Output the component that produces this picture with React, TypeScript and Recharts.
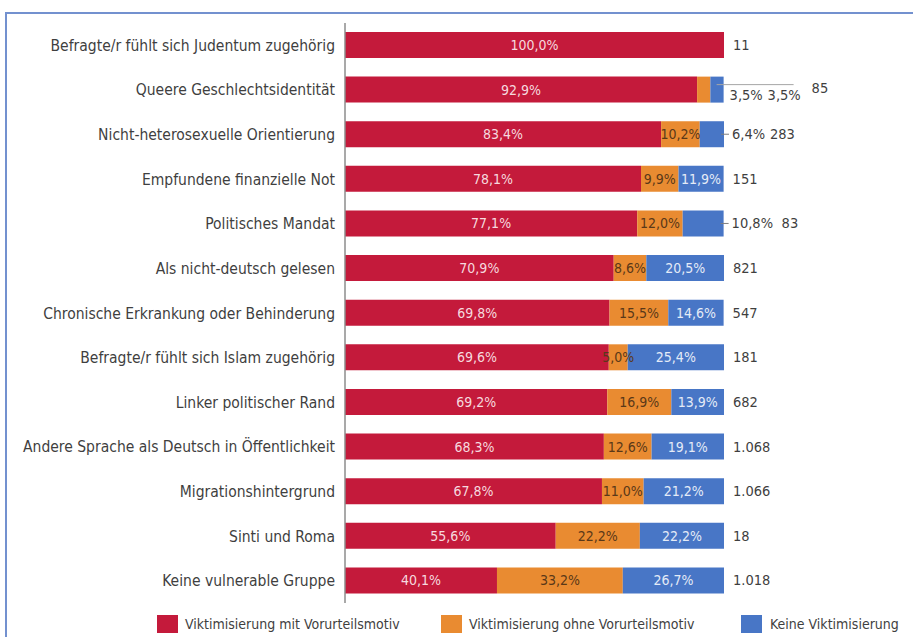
import React from "react";
import { BarChart, Bar, XAxis, YAxis, LabelList } from "recharts";

const categories = [
  "Befragte/r fühlt sich Judentum zugehörig",
  "Queere Geschlechtsidentität",
  "Nicht-heterosexuelle Orientierung",
  "Empfundene finanzielle Not",
  "Politisches Mandat",
  "Als nicht-deutsch gelesen",
  "Chronische Erkrankung oder Behinderung",
  "Befragte/r fühlt sich Islam zugehörig",
  "Linker politischer Rand",
  "Andere Sprache als Deutsch in Öffentlichkeit",
  "Migrationshintergrund",
  "Sinti und Roma",
  "Keine vulnerable Gruppe",
];
const mitMotiv = [100.0, 92.9, 83.4, 78.1, 77.1, 70.9, 69.8, 69.6, 69.2, 68.3, 67.8, 55.6, 40.1];
const ohneMotiv = [0, 3.5, 10.2, 9.9, 12.0, 8.6, 15.5, 5.0, 16.9, 12.6, 11.0, 22.2, 33.2];
const keine = [0, 3.5, 6.4, 11.9, 10.8, 20.5, 14.6, 25.4, 13.9, 19.1, 21.2, 22.2, 26.7];
const fallzahl = ["11", "85", "283", "151", "83", "821", "547", "181", "682", "1.068", "1.066", "18", "1.018"];

const seriesNames = [
  "Viktimisierung mit Vorurteilsmotiv",
  "Viktimisierung ohne Vorurteilsmotiv",
  "Keine Viktimisierung",
];

const RED = "#C41A3B";
const ORANGE = "#E98B31";
const BLUE = "#4876C6";
const TEXT = "#3f3f3f";
const FONT = "'DejaVu Sans Condensed', 'DejaVu Sans', sans-serif";

const rows = categories.map((name, i) => ({
  name,
  mit: mitMotiv[i],
  ohne: ohneMotiv[i],
  keine: keine[i],
  n: fallzahl[i],
}));

const fmt = (v: number) => v.toFixed(1).replace(".", ",") + "%";

// which small segments get their label outside the bar
const orangeOutside = (v: number) => v > 0 && v < 4;
const blueOutside = (v: number) => v > 0 && v < 11;

const insideLabel = (color: string, skip?: (v: number) => boolean) => (props: any) => {
  const { x, y, width, height, value } = props;
  if (!value || (skip && skip(value))) return null;
  return (
    <text
      x={x + width / 2}
      y={y + height / 2}
      textAnchor="middle"
      dominantBaseline="central"
      fill={color}
      fontSize={14}
      fontFamily={FONT}
    >
      {fmt(value)}
    </text>
  );
};

// labels right of the bar: small segments and the case count
// hung on the red series (never zero) so the index always matches the row
const outsideLabel = (props: any) => {
  const { x, y, width, height, index } = props;
  const d = rows[index];
  const end = x + (width * (d.mit + d.ohne + d.keine)) / d.mit;
  const cy = y + height / 2;
  const common = { fontSize: 14.5, fontFamily: FONT, fill: TEXT, dominantBaseline: "central" as const };
  if (orangeOutside(d.ohne) && blueOutside(d.keine)) {
    return (
      <g>
        <line x1={end - 7} y1={cy - 5} x2={end + 70} y2={cy - 5} stroke="#a6a6a6" strokeWidth={1} />
        <text x={end + 6} y={cy + 5} {...common}>{fmt(d.ohne)}</text>
        <text x={end + 44} y={cy + 5} {...common}>{fmt(d.keine)}</text>
        <text x={end + 88} y={cy - 2} {...common}>{d.n}</text>
      </g>
    );
  }
  if (blueOutside(d.keine)) {
    const big = d.keine >= 10;
    return (
      <g>
        <line x1={end - 3} y1={cy} x2={end + 5} y2={cy} stroke="#7f7f7f" strokeWidth={1} />
        <text x={end + 8} y={cy} {...common}>{fmt(d.keine)}</text>
        <text x={end + (big ? 58 : 46)} y={cy} {...common}>{d.n}</text>
      </g>
    );
  }
  return (
    <text x={end + 9} y={cy} {...common}>{d.n}</text>
  );
};

const legendItems = [
  { color: RED, swatch: 157, text: 185 },
  { color: ORANGE, swatch: 441, text: 469 },
  { color: BLUE, swatch: 741, text: 770 },
];

export default function App() {
  return (
    <div style={{ position: "absolute", left: 0, top: 0, width: 913, height: 637, background: "#fff", overflow: "hidden" }}>
      <div
        style={{
          position: "absolute",
          left: 5,
          top: 12,
          width: 1000,
          height: 700,
          borderLeft: "2px solid #7391cf",
          borderTop: "2px solid #7391cf",
        }}
      />
      <BarChart
        width={913}
        height={637}
        data={rows}
        layout="vertical"
        margin={{ top: 23, right: 189, bottom: 34, left: 0 }}
        barSize={26}
        style={{ position: "absolute", left: 0, top: 0 }}
      >
        <XAxis type="number" domain={[0, 100]} hide />
        <YAxis
          type="category"
          dataKey="name"
          width={345}
          tickLine={false}
          tickMargin={4}
          axisLine={{ stroke: "#8c8c8c", strokeWidth: 1.5 }}
          tick={{ fill: TEXT, fontSize: 15.5, fontFamily: FONT }}
          interval={0}
        />
        <Bar dataKey="mit" stackId="a" fill={RED} isAnimationActive={false} name={seriesNames[0]}>
          <LabelList dataKey="mit" content={insideLabel("#f6d9df")} />
          <LabelList dataKey="mit" content={outsideLabel} />
        </Bar>
        <Bar dataKey="ohne" stackId="a" fill={ORANGE} isAnimationActive={false} name={seriesNames[1]}>
          <LabelList dataKey="ohne" content={insideLabel("#5a3818", orangeOutside)} />
        </Bar>
        <Bar dataKey="keine" stackId="a" fill={BLUE} isAnimationActive={false} name={seriesNames[2]}>
          <LabelList dataKey="keine" content={insideLabel("#e4ebf7", blueOutside)} />
        </Bar>
      </BarChart>
      {legendItems.map((it, i) => (
        <React.Fragment key={i}>
          <div style={{ position: "absolute", left: it.swatch, top: 615, width: 21, height: 18, background: it.color }} />
          <div
            style={{
              position: "absolute",
              left: it.text,
              top: 614,
              fontFamily: FONT,
              fontSize: 14,
              color: TEXT,
              whiteSpace: "nowrap",
              lineHeight: "20px",
            }}
          >
            {seriesNames[i]}
          </div>
        </React.Fragment>
      ))}
    </div>
  );
}
